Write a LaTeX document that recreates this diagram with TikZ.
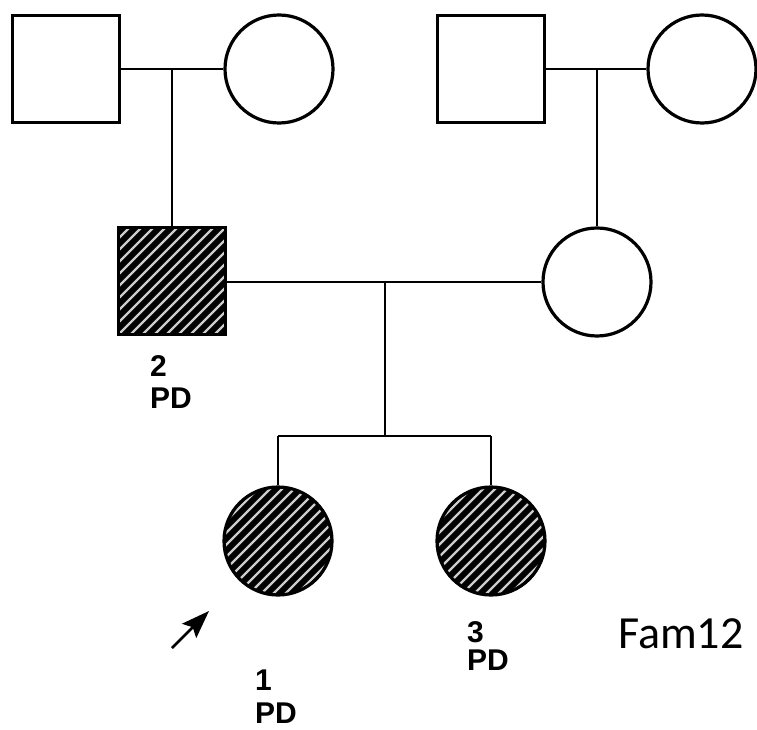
\documentclass[tikz,border=0pt]{standalone}
\usepackage{fontspec}
\setmainfont{Liberation Sans}
\newfontfamily\famfont{Carlito}
\usetikzlibrary{arrows.meta}

\tikzset{
  person/.style={draw=black, line width=3.2pt, fill=white, inner sep=0pt},
  male/.style={person, rectangle, minimum size=107pt},
  female/.style={person, circle, minimum size=108pt},
  affected/.style={path picture={
    \fill[black] (path picture bounding box.south west) rectangle (path picture bounding box.north east);
    \foreach \k in {-14,...,14}
      \draw[white!80!black, line width=2.2pt]
        ([xshift=\k*12pt]path picture bounding box.center) ++(-90pt,-90pt) -- ++(180pt,180pt);
  }},
  link/.style={draw=black, line width=1.8pt},
  idlabel/.style={anchor=base west, inner sep=0pt, font=\fontsize{30}{30}\selectfont\bfseries},
}

\begin{document}
\begin{tikzpicture}[x=1pt, y=-1pt]
  \useasboundingbox (0,0) rectangle (757,730);

  % generation I
  \node[male]   (gp1) at (66,69)  {};
  \node[female] (gm1) at (279,69) {};
  \node[male]   (gp2) at (491,69) {};
  \node[female] (gm2) at (702,69) {};

  % generation II
  \node[male, affected] (fa) at (172,281) {};
  \node[female]         (mo) at (597,282) {};

  % generation III
  \node[female, affected] (p1) at (278,541) {};
  \node[female, affected] (p3) at (491,541) {};

  % mating and descent lines
  \coordinate (u1) at (172,69);
  \coordinate (u2) at (597,69);
  \coordinate (u3) at (385,282);
  \coordinate (sib) at (385,436);
  \coordinate (sibL) at (278,436);
  \coordinate (sibR) at (491,436);

  \draw[link] (gp1.east) -- (gm1.west);
  \draw[link] (u1) -- (fa.north);
  \draw[link] (gp2.east) -- (gm2.west);
  \draw[link] (u2) -- (mo.north);
  \draw[link] (fa.east |- u3) -- (mo.west |- u3);
  \draw[link] (u3) -- (sib);
  \draw[link] (sibL) -- (sibR);
  \draw[link] (sibL) -- (p1.north);
  \draw[link] (sibR) -- (p3.north);

  % proband arrow
  \coordinate (arrTail) at (172,648);
  \coordinate (arrHead) at (209,611);
  \draw[line width=2.6pt, -{Stealth[length=28pt, width=20pt, inset=5pt]}] (arrTail) -- (arrHead);

  % individual labels
  \node[idlabel] (n2)  at (150,376) {2};
  \node[idlabel] (pd2) at (150,408) {PD};
  \node[idlabel] (n1)  at (255,690) {1};
  \node[idlabel] (pd1) at (255,723) {PD};
  \node[idlabel] (n3)  at (467,642) {3};
  \node[idlabel] (pd3) at (467,670) {PD};

  % family identifier
  \node[anchor=base west, inner sep=0pt, font=\famfont\fontsize{46}{46}\selectfont] (fam) at (618,648) {Fam12};
\end{tikzpicture}
\end{document}
